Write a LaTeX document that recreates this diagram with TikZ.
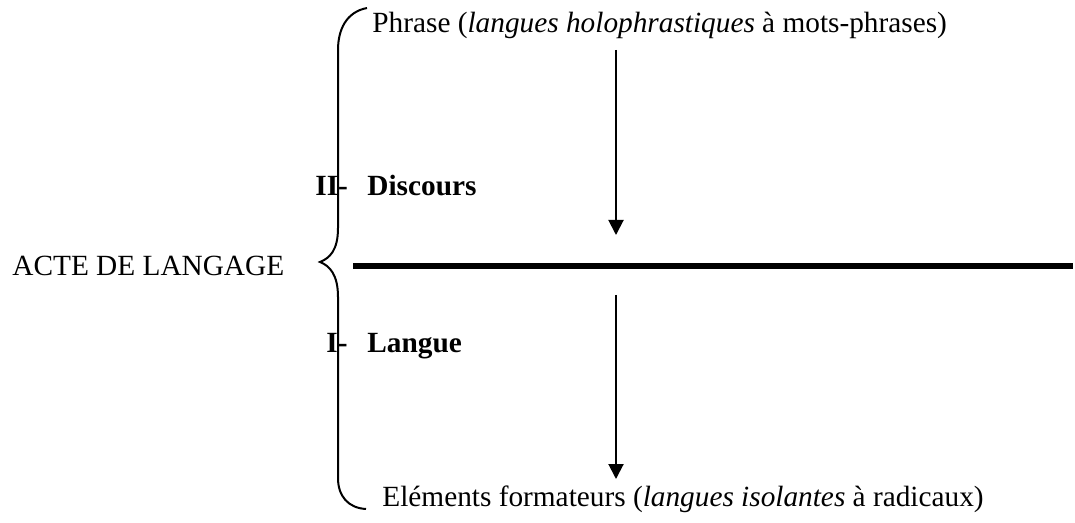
\documentclass[tikz,border=0pt]{standalone}
\usepackage{fontspec}
\setmainfont{Liberation Serif}
\usetikzlibrary{arrows.meta}
\definecolor{clrline}{HTML}{000000}

\begin{document}
\begin{tikzpicture}[
    x=0.5pt, y=-0.5pt,
    >={Triangle[length=7.5pt, width=7.5pt]},
    every node/.style={font=\fontsize{14.65pt}{17pt}\selectfont, inner sep=0pt, text=clrline},
    label/.style={anchor=base west},
    title/.style={anchor=base west, font=\fontsize{14.65pt}{17pt}\selectfont\bfseries},
    arrow/.style={->, color=clrline, line width=1pt},
    brace/.style={color=clrline, line width=1pt},
    divider/.style={color=clrline, line width=3pt},
]
\useasboundingbox (0,0) rectangle (1075,523);
\node[label] (n_1) at (12,276) {ACTE DE LANGAGE};
\node[label] (n_2) at (372,33) {Phrase (\textit{langues holophrastiques} à mots-phrases)};
\node[label] (n_3) at (382,506) {Eléments formateurs (\textit{langues isolantes} à radicaux)};
\node[title] (n_4) at (315,196) {II-};
\node[title] (n_5) at (367,196) {Discours};
\node[title] (n_6) at (326,352) {I-};
\node[title] (n_7) at (367,352) {Langue};
\coordinate (n_8_west) at (353,266);
\coordinate (n_8_east) at (1073,266);
\coordinate (n_9_top) at (616,50);
\coordinate (n_9_tip) at (616,235);
\coordinate (n_10_top) at (616,295);
\coordinate (n_10_tip) at (616,479);
\draw[brace] (367,8) .. controls (346,12) and (338,30) .. (338,50)
    -- (338,228) .. controls (338,250) and (330,258) .. (320,262)
    .. controls (330,266) and (338,275) .. (338,297)
    -- (338,478) .. controls (338,496) and (348,508) .. (366,509);
\draw[divider] (n_8_west) -- (n_8_east);
\draw[arrow] (n_9_top) -- (n_9_tip);
\draw[arrow] (n_10_top) -- (n_10_tip);
\end{tikzpicture}
\end{document}
